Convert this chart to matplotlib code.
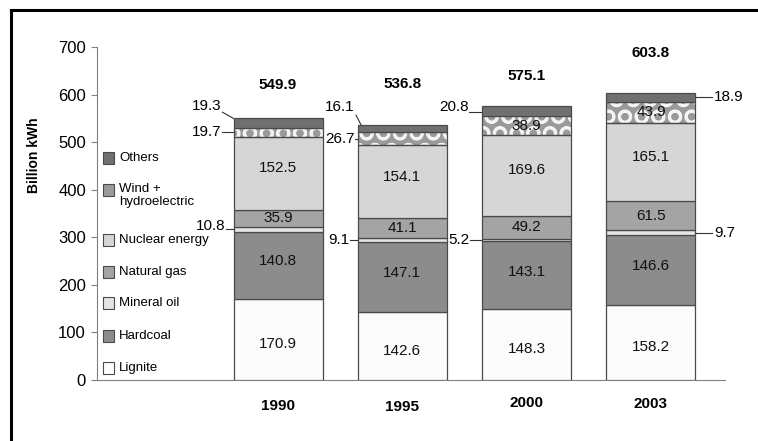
import numpy as np
import matplotlib
matplotlib.use("Agg")
import matplotlib.pyplot as plt
from matplotlib.patches import Rectangle
from matplotlib.lines import Line2D

# ================== DATA ==================

years = ["1990", "1995", "2000", "2003"]
sources = ["Lignite", "Hardcoal", "Mineral oil", "Natural gas",
           "Nuclear energy", "Wind + hydroelectric", "Others"]

lignite = [170.9, 142.6, 148.3, 158.2]
hardcoal = [140.8, 147.1, 143.1, 146.6]
mineral_oil = [10.8, 9.1, 5.2, 9.7]
natural_gas = [35.9, 41.1, 49.2, 61.5]
nuclear = [152.5, 154.1, 169.6, 165.1]
wind_hydro = [19.7, 26.7, 38.9, 43.9]
others = [19.3, 16.1, 20.8, 18.9]
totals = ["549.9", "536.8", "575.1", "603.8"]

series = [lignite, hardcoal, mineral_oil, natural_gas, nuclear, wind_hydro, others]

# ================== STYLE ==================

colors = ["#fcfcfc", "#8c8c8c", "#e4e4e4", "#a4a4a4", "#d6d6d6", "#9a9a9a", "#707070"]
edge = "#4a4a4a"
plt.rcParams["font.family"] = ["Liberation Sans", "DejaVu Sans"]
plt.rcParams["hatch.linewidth"] = 2.0

fig = plt.figure(figsize=(7.58, 4.41), dpi=100)
ax = fig.add_axes([0.128, 0.1383, 0.8285, 0.7551])

x = np.arange(len(years))
width = 0.716
bottoms = np.zeros(len(years))
mids = []
for i, vals in enumerate(series):
    vals = np.array(vals)
    if sources[i] == "Wind + hydroelectric":
        ax.bar(x, vals, width, bottom=bottoms, color=colors[i], edgecolor="#f4f4f4",
               hatch="O", linewidth=0, zorder=2)
        ax.bar(x, vals, width, bottom=bottoms, facecolor="none", edgecolor=edge,
               linewidth=0.9, zorder=3)
    else:
        ax.bar(x, vals, width, bottom=bottoms, color=colors[i], edgecolor=edge,
               linewidth=0.9, zorder=3)
    mids.append(bottoms + vals / 2)
    bottoms = bottoms + vals

# value labels inside the bars
inside = {0: [0, 1, 2, 3], 1: [0, 1, 2, 3], 3: [0, 1, 2, 3], 4: [0, 1, 2, 3], 5: [2, 3]}
shift = {0: -10, 1: 8, 3: 0, 4: 10, 5: 0}
for s, idxs in inside.items():
    for j in idxs:
        ax.text(x[j], mids[s][j] + shift[s], f"{series[s][j]:.1f}", ha="center",
                va="center", fontsize=11, color="#111111", zorder=5)

# callouts outside the bars: (bar, series, side, line length, text lift)
callouts = [(0, 5, "left", 0.09, 0), (0, 2, "left", 0.06, 7), (1, 5, "left", 0.02, 0),
            (1, 2, "left", 0.06, 0), (2, 2, "left", 0.1, 0), (3, 6, "right", 0.13, 0),
            (3, 2, "right", 0.13, 0)]
for j, s, side, ln, lift in callouts:
    y = mids[s][j]
    if side == "left":
        x0 = x[j] - width / 2
        ax.plot([x0 - ln, x0], [y, y], color="#333333", lw=0.8, clip_on=False)
        ax.text(x0 - ln - 0.005, y + lift, f"{series[s][j]:.1f}", ha="right",
                va="center", fontsize=11)
    else:
        x0 = x[j] + width / 2
        ax.plot([x0, x0 + ln], [y, y], color="#333333", lw=0.8, clip_on=False)
        ax.text(x0 + ln + 0.02, y + lift, f"{series[s][j]:.1f}", ha="left",
                va="center", fontsize=11)

# "Others" callouts on the top-left corners
left = x - width / 2
ax.plot([left[0] - 0.09, left[0]], [563, 549.9], color="#333333", lw=0.8, clip_on=False)
ax.text(left[0] - 0.1, 575, "19.3", ha="right", va="center", fontsize=11)
ax.plot([left[1] - 0.015, left[1] + 0.025], [557, 536.8], color="#333333", lw=0.8,
        clip_on=False)
ax.text(left[1] - 0.03, 573, "16.1", ha="right", va="center", fontsize=11)
ax.plot([left[2] - 0.105, left[2]], [563, 563], color="#333333", lw=0.8, clip_on=False)
ax.text(left[2] - 0.11, 574, "20.8", ha="right", va="center", fontsize=11)

# totals and years
total_y = [620, 622, 639, 688]
year_y = [-55, -57, -48, -50]
for j in range(len(years)):
    ax.text(x[j], total_y[j], totals[j], ha="center", va="center", fontsize=11,
            fontweight="bold")
    ax.text(x[j], year_y[j], years[j], ha="center", va="center", fontsize=11,
            fontweight="bold", clip_on=False)

# legend drawn by hand
leg_y = [158, 190, 240, 272, 303, 336, 368]
leg_labels = ["Others", "Wind +\nhydroelectric", "Nuclear energy", "Natural gas",
              "Mineral oil", "Hardcoal", "Lignite"]
leg_colors = colors[::-1]
for k, (py, lab) in enumerate(zip(leg_y, leg_labels)):
    ax_x = (103 - 97) / 628
    ax_y = (380 - py) / 333
    sq = Rectangle((ax_x, ax_y - 0.017), 11 / 628, 11.5 / 333, transform=ax.transAxes,
                   facecolor=leg_colors[k], edgecolor=edge, linewidth=0.8, zorder=4)
    ax.add_patch(sq)
    if "\n" in lab:
        ax.text((119 - 97) / 628, ax_y + 0.022, lab, transform=ax.transAxes, ha="left",
                va="top", fontsize=9.5, linespacing=1.2)
    else:
        ax.text((119 - 97) / 628, ax_y, lab, transform=ax.transAxes, ha="left",
                va="center", fontsize=9.5)

# axes
ax.set_xlim(-1.456, 3.596)
ax.set_ylim(0, 700)
ax.set_yticks(np.arange(0, 701, 100))
ax.set_xticks([])
ax.tick_params(axis="y", labelsize=12, length=4, color="#808080", pad=4)
for sp in ["top", "right"]:
    ax.spines[sp].set_visible(False)
for sp in ["left", "bottom"]:
    ax.spines[sp].set_color("#808080")
ax.set_ylabel("Billion kWh", fontsize=10, fontweight="bold")
ax.yaxis.set_label_coords(-0.089, 0.676)

# outer frame (cropped at right and bottom)
fig.add_artist(Line2D([11 / 758, 11 / 758], [1 - 10 / 441, 0], color="black", lw=2.2))
fig.add_artist(Line2D([11 / 758, 1], [1 - 10 / 441, 1 - 10 / 441], color="black", lw=2.2))

plt.savefig("out.png", dpi=100)
